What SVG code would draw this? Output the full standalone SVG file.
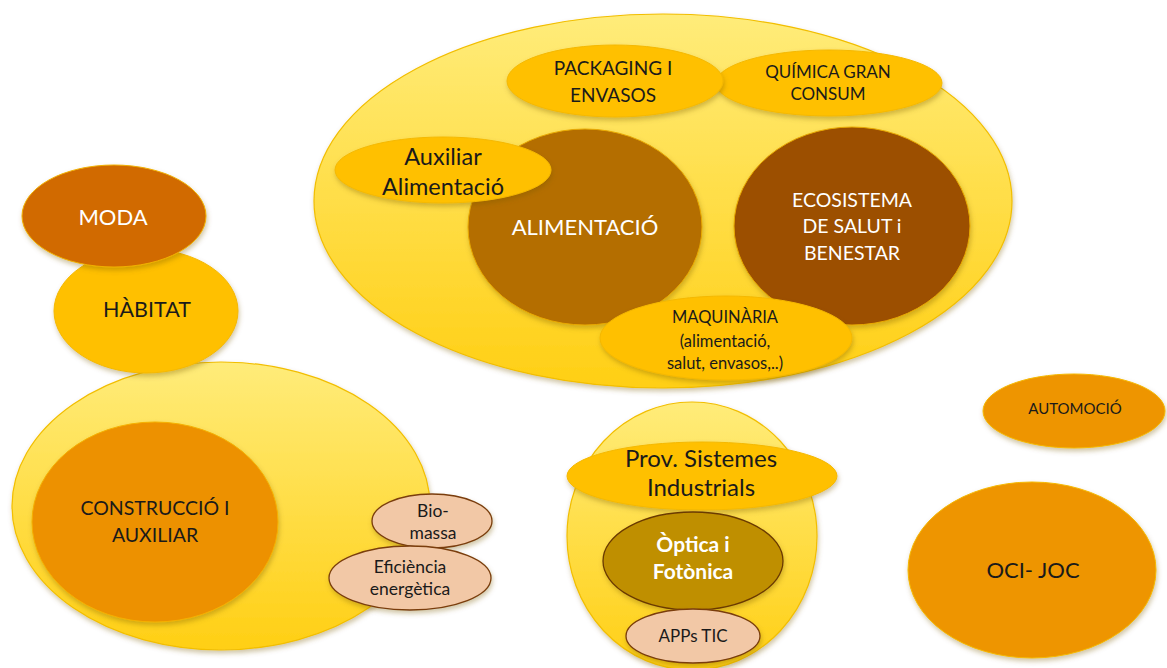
<svg xmlns="http://www.w3.org/2000/svg" width="1167" height="668" viewBox="0 0 1167 668">
<defs>
<linearGradient id="lt" x1="0" y1="0" x2="0" y2="1">
<stop offset="0" stop-color="#FFEC7A"/>
<stop offset="1" stop-color="#FFCF14"/>
</linearGradient>
<filter id="sh" x="-10%" y="-10%" width="125%" height="130%">
<feDropShadow dx="1" dy="3" stdDeviation="2.5" flood-color="#7a5a00" flood-opacity="0.35"/>
</filter>
<style>
.big{fill:url(#lt);stroke:#F2BE00;stroke-width:1.2;filter:url(#sh)}
.yel{fill:#FFC000;stroke:#F5B800;stroke-width:1;filter:url(#sh)}
.pea{fill:#F2C8A6;stroke:#7A3D0C;stroke-width:1.3;filter:url(#sh)}
.t{font-family:Lato,"Liberation Sans",sans-serif;text-anchor:middle;fill:#1a1a1a}
.w{fill:#ffffff}
</style>
</defs>
<g id="food-cluster">
<ellipse class="big" cx="663" cy="201" rx="349" ry="187"/>
</g>
<g id="quimica">
<ellipse class="yel" cx="829" cy="83" rx="113" ry="33"/>
<text class="t" x="828" y="78" font-size="17">QUÍMICA GRAN</text>
<text class="t" x="828" y="100" font-size="17">CONSUM</text>
</g>
<g id="packaging">
<ellipse class="yel" cx="615" cy="81" rx="108" ry="36"/>
<text class="t" x="613" y="75" font-size="19">PACKAGING I</text>
<text class="t" x="613" y="102" font-size="19">ENVASOS</text>
</g>
<g id="alimentacio">
<ellipse cx="585" cy="227" rx="117" ry="98" fill="#B46E00" stroke="#E8A800" stroke-width="1" filter="url(#sh)"/>
<text class="t w" x="585" y="235" font-size="22">ALIMENTACIÓ</text>
</g>
<g id="auxiliar">
<ellipse class="yel" cx="443" cy="170" rx="108" ry="33"/>
<text class="t" x="443" y="165" font-size="23.5">Auxiliar</text>
<text class="t" x="443" y="195" font-size="23.5">Alimentació</text>
</g>
<g id="ecosistema">
<ellipse cx="852" cy="226" rx="118" ry="99" fill="#9C5000" stroke="#E8A800" stroke-width="1" filter="url(#sh)"/>
<text class="t w" x="852" y="207" font-size="19.5">ECOSISTEMA</text>
<text class="t w" x="852" y="233" font-size="19.5">DE SALUT i</text>
<text class="t w" x="852" y="260" font-size="19.5">BENESTAR</text>
</g>
<g id="maquinaria">
<ellipse class="yel" cx="726" cy="338" rx="126" ry="42"/>
<text class="t" x="725" y="323" font-size="16.5">MAQUINÀRIA</text>
<text class="t" x="725" y="347" font-size="16.5">(alimentació,</text>
<text class="t" x="725" y="369" font-size="16.5">salut, envasos,..)</text>
</g>
<g id="construccio-cluster">
<ellipse class="big" cx="221" cy="506" rx="209" ry="144"/>
</g>
<g id="habitat">
<ellipse class="yel" cx="146" cy="311" rx="92" ry="62"/>
<text class="t" x="147" y="317" font-size="21.5">HÀBITAT</text>
</g>
<g id="moda">
<ellipse cx="114" cy="216" rx="92" ry="51" fill="#D16A00" stroke="#F0B000" stroke-width="1" filter="url(#sh)"/>
<text class="t w" x="113" y="225" font-size="22">MODA</text>
</g>
<g id="construccio">
<ellipse cx="155" cy="522" rx="123" ry="100" fill="#ED9100" stroke="#F5B000" stroke-width="1" filter="url(#sh)"/>
<text class="t" x="155" y="515" font-size="19.5">CONSTRUCCIÓ I</text>
<text class="t" x="155" y="542" font-size="19.5">AUXILIAR</text>
</g>
<g id="biomassa">
<ellipse class="pea" cx="432" cy="521" rx="60" ry="27"/>
<text class="t" x="433" y="517" font-size="17.5">Bio-</text>
<text class="t" x="433" y="539" font-size="17.5">massa</text>
</g>
<g id="eficiencia">
<ellipse class="pea" cx="410" cy="578" rx="81" ry="32"/>
<text class="t" x="410" y="573" font-size="17.5">Eficiència</text>
<text class="t" x="410" y="595" font-size="17.5">energètica</text>
</g>
<g id="optica-cluster">
<ellipse class="big" cx="692" cy="536" rx="125" ry="134"/>
</g>
<g id="prov">
<ellipse class="yel" cx="702" cy="476" rx="135" ry="34"/>
<text class="t" x="701" y="467" font-size="24">Prov. Sistemes</text>
<text class="t" x="701" y="496" font-size="24">Industrials</text>
</g>
<g id="optica">
<ellipse cx="693" cy="561" rx="90" ry="49" fill="#BF8F00" stroke="#6B3A00" stroke-width="1.3" filter="url(#sh)"/>
<text class="t w" x="693" y="552" font-size="21" font-weight="bold">Òptica i</text>
<text class="t w" x="693" y="579" font-size="21" font-weight="bold">Fotònica</text>
</g>
<g id="apps">
<ellipse class="pea" cx="693" cy="636" rx="67" ry="27"/>
<text class="t" x="693" y="642" font-size="17">APPs TIC</text>
</g>
<g id="automocio">
<ellipse cx="1074" cy="411" rx="91" ry="37" fill="#EE9500" stroke="#F5B800" stroke-width="1" filter="url(#sh)"/>
<text class="t" x="1075" y="414" font-size="15">AUTOMOCIÓ</text>
</g>
<g id="oci-joc">
<ellipse cx="1032" cy="570" rx="124" ry="88" fill="#EE9500" stroke="#F5B800" stroke-width="1" filter="url(#sh)"/>
<text class="t" x="1033" y="578" font-size="22">OCI- JOC</text>
</g>
<g id="connectors"/>
</svg>
